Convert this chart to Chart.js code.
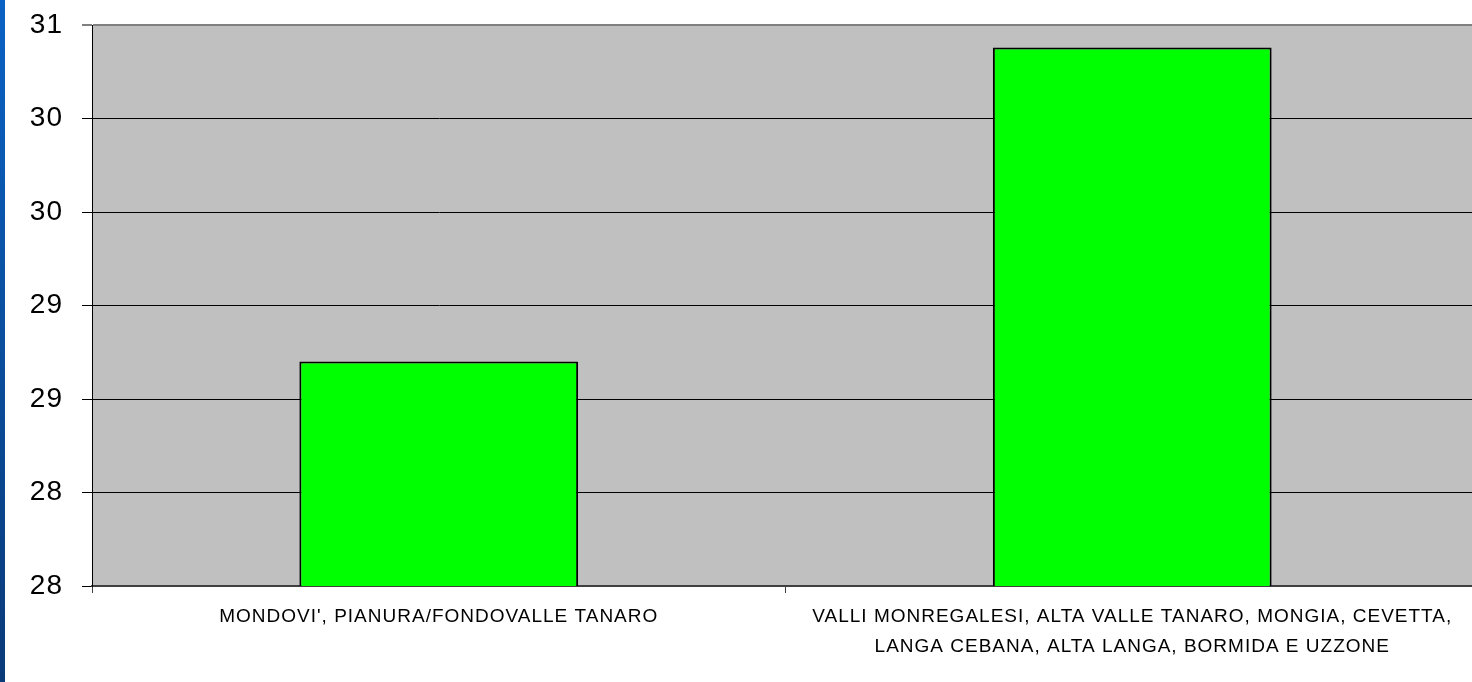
<!DOCTYPE html>
<html>
<head>
<meta charset="utf-8">
<script src="https://cdn.jsdelivr.net/npm/chart.js@4/dist/chart.umd.min.js"></script>
<style>
  html, body { margin: 0; padding: 0; background: #fff; overflow: hidden; width: 1472px; height: 682px; }
  #faixa { position: absolute; left: 0; top: 0; width: 5px; height: 682px;
           background: linear-gradient(#0a62c4, #0a3a78); z-index: 2; }
  #grafico { display: block; }
</style>
</head>
<body>
<div id="faixa"></div>
<!-- a área do gráfico passa um pouco da borda direita, como no original -->
<canvas id="grafico" width="1479" height="682"></canvas>
<script>
/* ---- dados ---- */
const zonas = [
  "MONDOVI', PIANURA/FONDOVALLE TANARO",
  ['VALLI MONREGALESI, ALTA VALLE TANARO, MONGIA, CEVETTA,', 'LANGA CEBANA, ALTA LANGA, BORMIDA E UZZONE']
];
const valores = [28.80, 30.48];

/* eixo Y: 7 marcas, rótulos arredondados como no original */
const yMin = 27.6, yMax = 30.6, yPasso = 0.5;
const rotulosY = ['28', '28', '29', '29', '30', '30', '31'];

const fonte = '"Liberation Sans", Arial, sans-serif';

/* fundo cinza da área de plotagem + espaçamento das letras */
const fundoPlot = {
  id: 'fundoPlot',
  beforeLayout(chart) { chart.ctx.letterSpacing = '1px'; },
  beforeDraw(chart) {
    const { ctx, chartArea: a } = chart;
    ctx.letterSpacing = '1px';
    ctx.save();
    ctx.fillStyle = '#c0c0c0';
    ctx.fillRect(a.left, a.top, a.right - a.left, a.bottom - a.top);
    ctx.restore();
  }
};

new Chart(document.getElementById('grafico'), {
  type: 'bar',
  data: {
    labels: zonas,
    datasets: [{
      data: valores,
      backgroundColor: '#00ff00',
      borderColor: '#000000',
      borderWidth: 2,
      borderSkipped: false,
      categoryPercentage: 1,
      barPercentage: 0.402
    }]
  },
  options: {
    responsive: false,
    animation: false,
    layout: { padding: { top: 25, right: 0, left: 0, bottom: 0 } },
    plugins: { legend: { display: false }, tooltip: { enabled: false } },
    scales: {
      x: {
        grid: { drawOnChartArea: false, tickLength: 7, color: '#404040', lineWidth: 1 },
        border: { color: '#404040', width: 2 },
        ticks: {
          color: '#000', autoSkip: false, maxRotation: 0, minRotation: 0, padding: 9,
          font: { family: fonte, size: 19, lineHeight: 1.58 }
        },
        afterFit(s) { s.height = 96; s.paddingLeft = 0; s.paddingRight = 0; }
      },
      y: {
        min: yMin, max: yMax,
        grid: {
          tickLength: 10,
          color: (c) => c.index === rotulosY.length - 1 ? '#808080' : '#000000',
          lineWidth: (c) => c.index === rotulosY.length - 1 ? 2 : 1
        },
        border: { color: '#000000', width: 1 },
        ticks: {
          stepSize: yPasso, color: '#000', padding: 19,
          font: { family: fonte, size: 28 },
          callback: (v, i) => rotulosY[i]
        },
        afterFit(s) { s.width = 92; s.paddingTop = 0; s.paddingBottom = 0; }
      }
    }
  },
  plugins: [fundoPlot]
});
</script>
</body>
</html>
